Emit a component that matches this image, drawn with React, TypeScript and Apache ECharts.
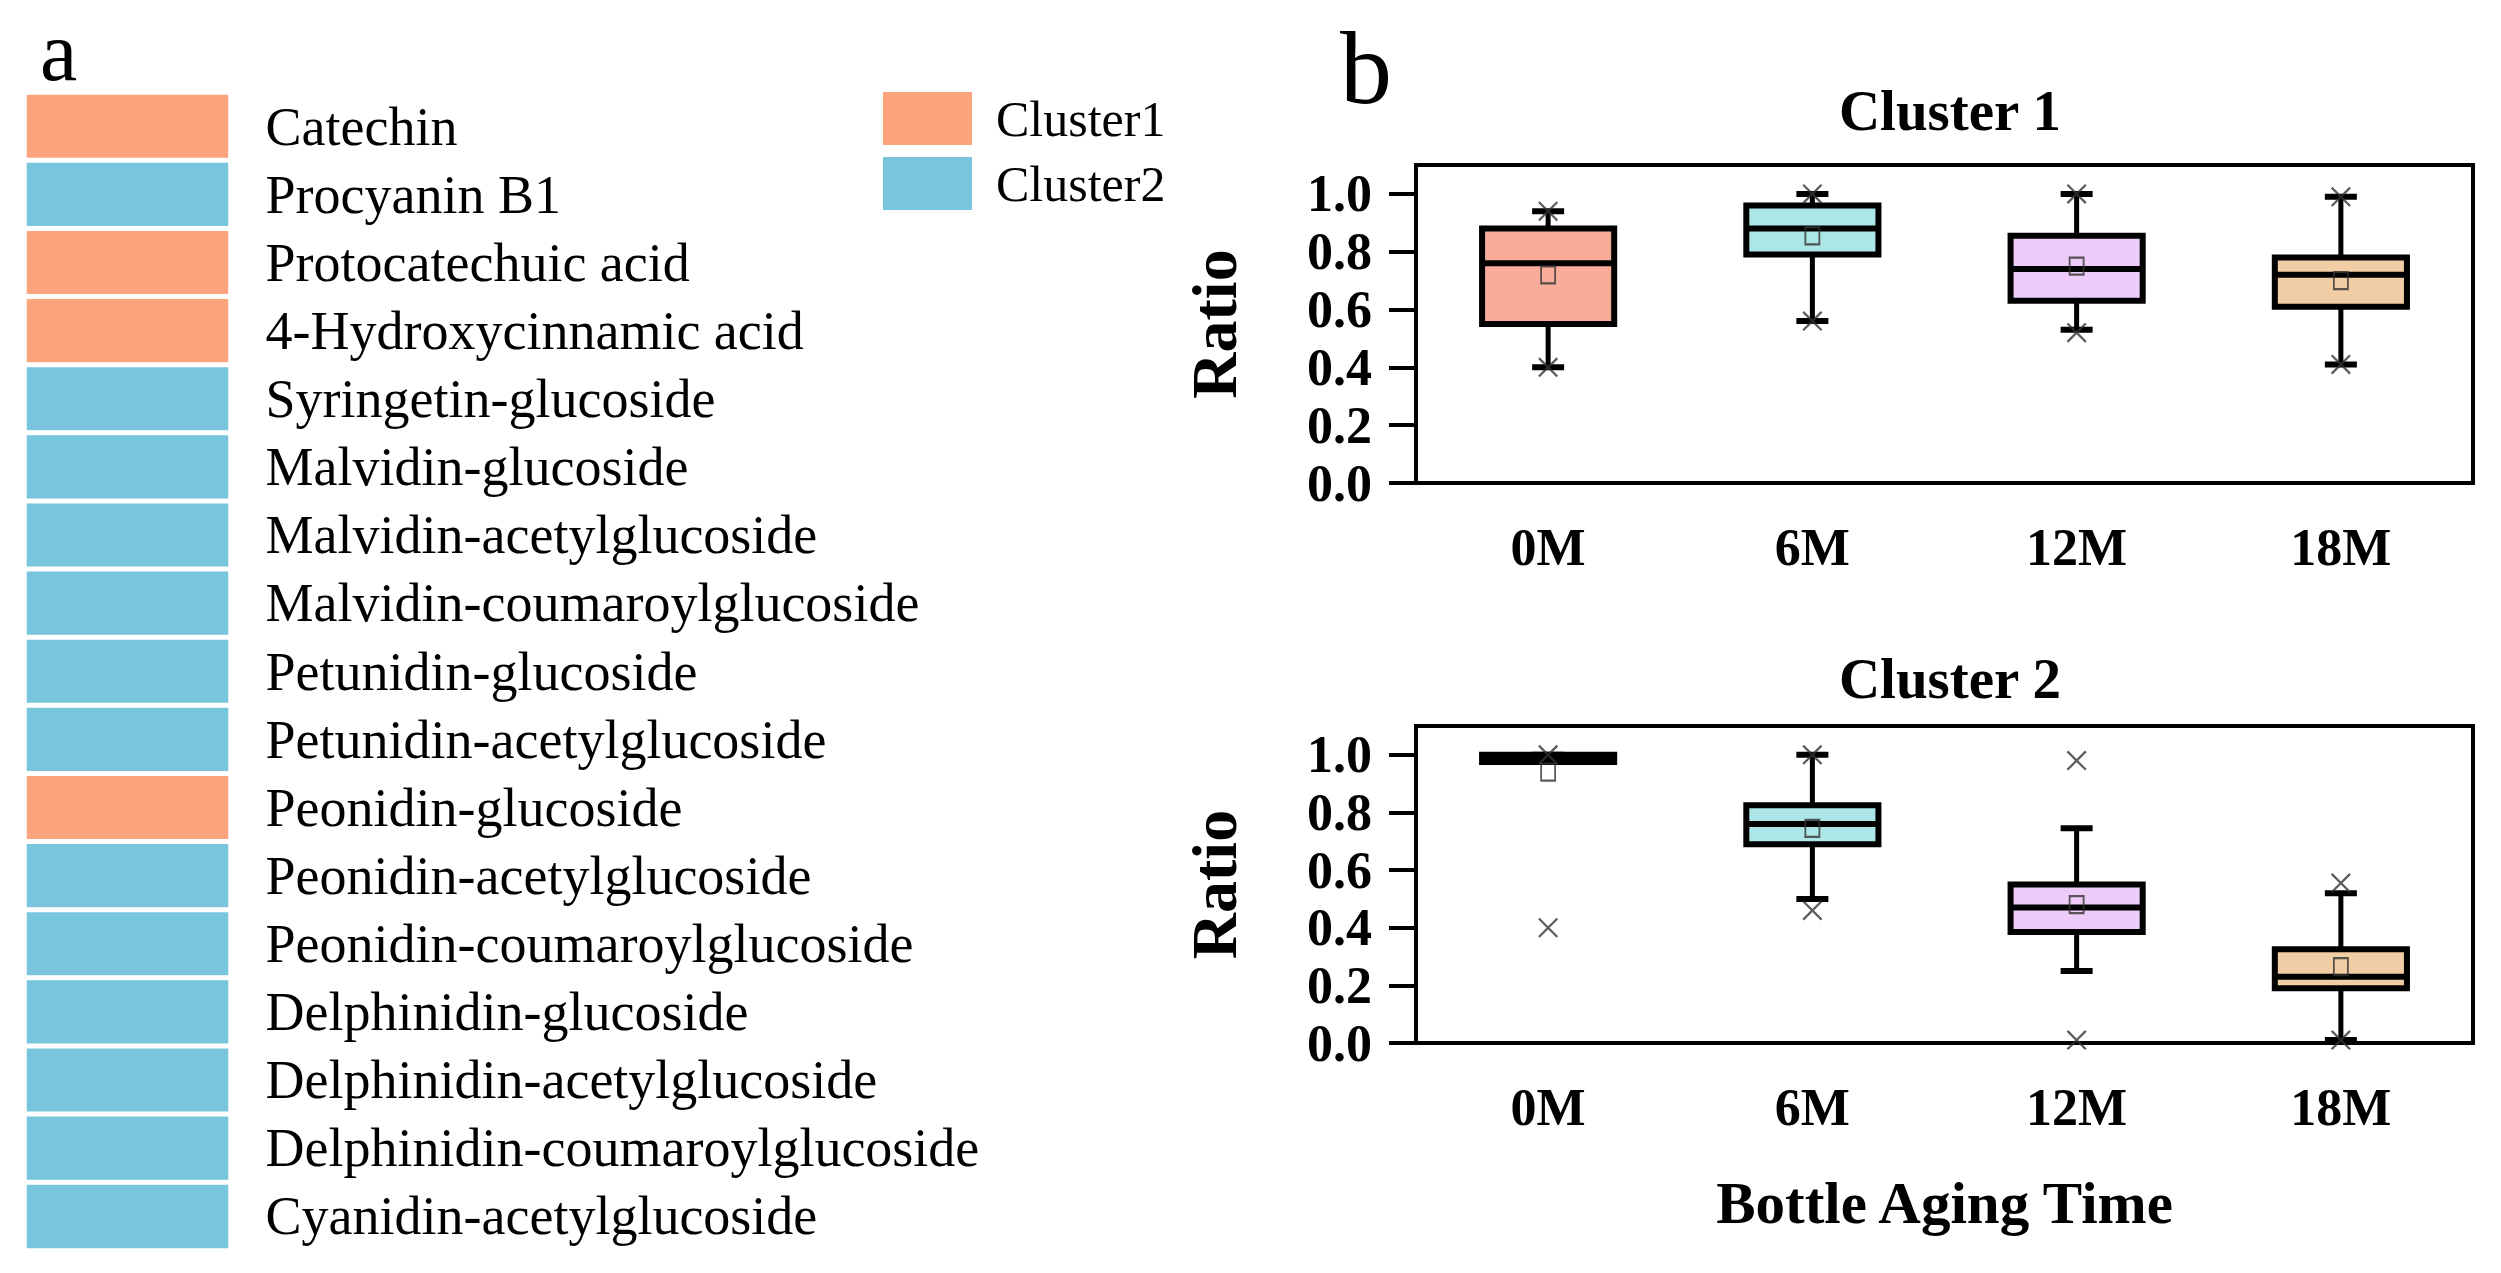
import React, { useEffect, useRef } from "react";
import * as echarts from "echarts";

const FONT = "'Liberation Serif', 'Times New Roman', serif";

// Panel a: compounds and their cluster (1 or 2)
const compounds = [
  "Catechin",
  "Procyanin B1",
  "Protocatechuic acid",
  "4-Hydroxycinnamic acid",
  "Syringetin-glucoside",
  "Malvidin-glucoside",
  "Malvidin-acetylglucoside",
  "Malvidin-coumaroylglucoside",
  "Petunidin-glucoside",
  "Petunidin-acetylglucoside",
  "Peonidin-glucoside",
  "Peonidin-acetylglucoside",
  "Peonidin-coumaroylglucoside",
  "Delphinidin-glucoside",
  "Delphinidin-acetylglucoside",
  "Delphinidin-coumaroylglucoside",
  "Cyanidin-acetylglucoside",
];
const compoundCluster = [1, 2, 1, 1, 2, 2, 2, 2, 2, 2, 1, 2, 2, 2, 2, 2, 2];
const clusterNames = ["Cluster1", "Cluster2"];

// Panel b: box statistics per bottle aging time
const agingTimes = ["0M", "6M", "12M", "18M"];
const yTicks = [0, 0.2, 0.4, 0.6, 0.8, 1.0];

const c1Min = [0.40, 0.56, 0.53, 0.41];
const c1Q1 = [0.55, 0.79, 0.63, 0.61];
const c1Med = [0.76, 0.88, 0.74, 0.72];
const c1Q3 = [0.88, 0.96, 0.855, 0.78];
const c1Max = [0.94, 1.0, 1.0, 0.99];
const c1Mean = [0.72, 0.855, 0.75, 0.70];
const c1XHigh = [0.94, 1.0, 1.0, 0.99];
const c1XLow = [0.40, 0.56, 0.52, 0.41];

const c2Min = [0.975, 0.50, 0.25, 0.01];
const c2Q1 = [0.975, 0.69, 0.385, 0.19];
const c2Med = [0.99, 0.76, 0.47, 0.23];
const c2Q3 = [1.0, 0.825, 0.55, 0.325];
const c2Max = [1.0, 1.0, 0.745, 0.52];
const c2Mean = [0.94, 0.745, 0.48, 0.265];
const c2XHigh = [1.0, 1.0, 0.98, 0.555];
const c2XLow = [0.40, 0.46, 0.01, 0.01];

// styles
const clusterColors = ["#FCA47E", "#7AC5DE"];
const boxColors = ["#FAAC9B", "#ADE6E6", "#EECCFA", "#F0CDA5"];

const X_PATH =
  "path://M0,0.8L0.8,0L10,9.2L9.2,10Z M9.2,0L10,0.8L0.8,10L0,9.2Z";

function boxData(mn: number[], q1: number[], md: number[], q3: number[], mx: number[]) {
  return agingTimes.map((_, i) => [i, mn[i], q1[i], md[i], q3[i], mx[i]]);
}
function pts(vals: number[]) {
  return vals.map((v, i) => [i, v]);
}

function renderBox(params: any, api: any) {
  const x = api.value(0);
  const pMin = api.coord([x, api.value(1)]);
  const pQ1 = api.coord([x, api.value(2)]);
  const pMed = api.coord([x, api.value(3)]);
  const pQ3 = api.coord([x, api.value(4)]);
  const pMax = api.coord([x, api.value(5)]);
  const band = api.size([1, 0])[0];
  const bw = band * 0.5;
  const cx = pMed[0];
  const cap = 16;
  const black = "#000";
  return {
    type: "group",
    children: [
      { type: "line", shape: { x1: cx, y1: pMax[1], x2: cx, y2: pQ3[1] }, style: { stroke: black, lineWidth: 5 } },
      { type: "line", shape: { x1: cx, y1: pQ1[1], x2: cx, y2: pMin[1] }, style: { stroke: black, lineWidth: 5 } },
      { type: "line", shape: { x1: cx - cap, y1: pMax[1], x2: cx + cap, y2: pMax[1] }, style: { stroke: black, lineWidth: 6 } },
      { type: "line", shape: { x1: cx - cap, y1: pMin[1], x2: cx + cap, y2: pMin[1] }, style: { stroke: black, lineWidth: 6 } },
      {
        type: "rect",
        shape: { x: cx - bw / 2, y: pQ3[1], width: bw, height: pQ1[1] - pQ3[1] },
        style: { fill: boxColors[x], stroke: black, lineWidth: 6 },
      },
      { type: "line", shape: { x1: cx - bw / 2, y1: pMed[1], x2: cx + bw / 2, y2: pMed[1] }, style: { stroke: black, lineWidth: 6 } },
    ],
  };
}

const labelStyle = { fontFamily: FONT, fontWeight: "bold" as const, color: "#000" };

function boxXAxis(gridIndex: number, name?: string) {
  return {
    gridIndex,
    type: "category",
    data: agingTimes,
    boundaryGap: true,
    axisLine: { lineStyle: { color: "#000", width: 4 } },
    axisTick: { alignWithLabel: true, length: 27, lineStyle: { color: "#000", width: 4 } },
    axisLabel: { ...labelStyle, fontSize: 52, margin: 38 },
    splitLine: { show: false },
    name: name || "",
    nameLocation: "middle",
    nameGap: 130,
    nameTextStyle: { ...labelStyle, fontSize: 59 },
  };
}
function boxYAxis(gridIndex: number) {
  return {
    gridIndex,
    type: "value",
    min: 0,
    max: 1.1,
    axisLine: { show: true, lineStyle: { color: "#000", width: 4 } },
    axisTick: { show: true, length: 27, customValues: yTicks, lineStyle: { color: "#000", width: 4 } },
    axisLabel: {
      ...labelStyle,
      fontSize: 52,
      margin: 44,
      customValues: yTicks,
      formatter: (v: number) => v.toFixed(1),
    },
    splitLine: { show: false },
    name: "Ratio",
    nameLocation: "middle",
    nameRotate: 90,
    nameGap: 170,
    nameTextStyle: { ...labelStyle, fontSize: 64 },
  };
}

function boxSeries(axisIndex: number, data: any[], mean: number[], xs: number[][]) {
  return [
    {
      type: "custom",
      xAxisIndex: axisIndex,
      yAxisIndex: axisIndex,
      renderItem: renderBox,
      dimensions: ["x", "min", "q1", "median", "q3", "max"],
      encode: { x: 0, y: [1, 2, 3, 4, 5] },
      data,
      z: 2,
    },
    {
      type: "scatter",
      xAxisIndex: axisIndex,
      yAxisIndex: axisIndex,
      symbol: "rect",
      symbolSize: [14, 17],
      itemStyle: { color: "rgba(0,0,0,0)", borderColor: "#333", borderWidth: 2 },
      data: pts(mean),
      z: 5,
    },
    {
      type: "scatter",
      xAxisIndex: axisIndex,
      yAxisIndex: axisIndex,
      symbol: X_PATH,
      symbolSize: 20,
      itemStyle: { color: "#333" },
      data: [...pts(xs[0]), ...pts(xs[1])],
      z: 6,
    },
  ];
}

export default function App() {
  const ref = useRef<HTMLDivElement>(null);
  useEffect(() => {
    if (!ref.current) return;
    const chart = echarts.init(ref.current, undefined, { renderer: "svg" });
    const heatData = compounds.map((_, i) => [0, i, compoundCluster[i]]);
    chart.setOption({
      animation: false,
      backgroundColor: "#fff",
      textStyle: { fontFamily: FONT },
      grid: [
        { left: 24.5, top: 92.5, width: 206, height: 1158 },
        { left: 1416, top: 165, width: 1057, height: 318, show: true, borderColor: "#000", borderWidth: 4 },
        { left: 1416, top: 726, width: 1057, height: 317, show: true, borderColor: "#000", borderWidth: 4 },
      ],
      xAxis: [
        { gridIndex: 0, type: "category", data: ["cluster"], show: false },
        boxXAxis(1),
        boxXAxis(2, "Bottle Aging Time"),
      ],
      yAxis: [
        {
          gridIndex: 0,
          type: "category",
          data: compounds,
          inverse: true,
          position: "right",
          axisLine: { show: false },
          axisTick: { show: false },
          splitLine: { show: false },
          axisLabel: { interval: 0, margin: 35, fontSize: 54, color: "#000", fontFamily: FONT, align: "left" },
        },
        boxYAxis(1),
        boxYAxis(2),
      ],
      visualMap: {
        type: "piecewise",
        seriesIndex: 0,
        dimension: 2,
        orient: "vertical",
        inverse: true,
        left: 868,
        top: 77,
        itemWidth: 89,
        itemHeight: 53,
        itemGap: 12,
        textGap: 24,
        itemSymbol: "rect",
        hoverLink: false,
        selectedMode: false,
        textStyle: { fontSize: 50, fontFamily: FONT, color: "#000" },
        pieces: [
          { value: 1, label: clusterNames[0], color: clusterColors[0] },
          { value: 2, label: clusterNames[1], color: clusterColors[1] },
        ],
      },
      graphic: [
        {
          type: "text",
          x: 40,
          y: 51,
          style: { text: "a", fontSize: 84, lineHeight: 84, fontFamily: FONT, fill: "#000", align: "left", verticalAlign: "middle", textAlign: "left", textVerticalAlign: "middle" },
        },
        {
          type: "text",
          x: 1340,
          y: 67,
          style: { text: "b", fontSize: 104, lineHeight: 100, fontFamily: FONT, fill: "#000", align: "left", verticalAlign: "middle", textAlign: "left", textVerticalAlign: "middle" },
        },
        {
          type: "text",
          x: 1950,
          y: 110,
          style: { text: "Cluster 1", fontSize: 57, fontWeight: "bold", fontFamily: FONT, fill: "#000", align: "center", verticalAlign: "middle", textAlign: "center", textVerticalAlign: "middle" },
        },
        {
          type: "text",
          x: 1950,
          y: 678,
          style: { text: "Cluster 2", fontSize: 57, fontWeight: "bold", fontFamily: FONT, fill: "#000", align: "center", verticalAlign: "middle", textAlign: "center", textVerticalAlign: "middle" },
        },
      ],
      series: [
        {
          type: "heatmap",
          xAxisIndex: 0,
          yAxisIndex: 0,
          data: heatData,
          itemStyle: { borderColor: "#fff", borderWidth: 5 },
          emphasis: { disabled: true },
        },
        ...boxSeries(1, boxData(c1Min, c1Q1, c1Med, c1Q3, c1Max), c1Mean, [c1XHigh, c1XLow]),
        ...boxSeries(2, boxData(c2Min, c2Q1, c2Med, c2Q3, c2Max), c2Mean, [c2XHigh, c2XLow]),
      ],
    });
    return () => chart.dispose();
  }, []);
  return (
    <div
      ref={ref}
      style={{ position: "fixed", left: 0, top: 0, width: "2501px", height: "1273px", background: "#fff" }}
    />
  );
}
